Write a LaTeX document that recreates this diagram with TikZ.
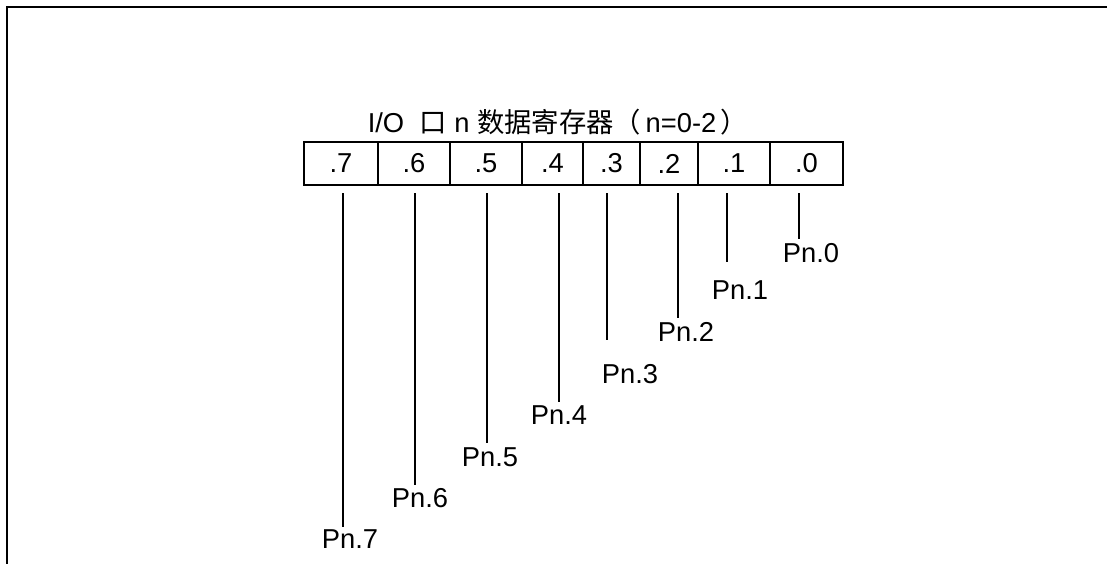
\documentclass[tikz,border=0pt]{standalone}
\usepackage{fontspec}
\setmainfont{Liberation Sans}
\newfontfamily\cjk{Noto Sans CJK SC}
\begin{document}
\begin{tikzpicture}[x=0.75pt,y=-0.75pt,
  txt/.style={inner sep=0pt,font=\fontsize{20.5}{23}\selectfont},
  cell/.style={txt,draw,line width=1.3pt,minimum height=32.25pt},
  wire/.style={line width=1.3pt},
  frame/.style={line width=1.6pt}]
\useasboundingbox (0,0) rectangle (1107,564);
\draw[frame] (7,564) -- (7,7) -- (1107,7);
% title
\node[txt] (title) at (558,122) {I/O\ \ {\cjk 口} n {\cjk 数据寄存器（}\,n=0-2\,{\cjk ）}};
% register cells
\node[cell,minimum width=55.5pt]  (c7) at (341,163.5)   {.7};
\node[cell,minimum width=54pt]    (c6) at (414,163.5)   {.6};
\node[cell,minimum width=54pt]    (c5) at (486,163.5)   {.5};
\node[cell,minimum width=45.75pt] (c4) at (552.5,163.5) {.4};
\node[cell,minimum width=42.75pt] (c3) at (611.5,163.5) {.3};
\node[cell,minimum width=43.5pt]  (c2) at (669,163.5)   {.2};
\node[cell,minimum width=54pt]    (c1) at (734,163.5)   {.1};
\node[cell,minimum width=54.75pt] (c0) at (806.5,163.5) {.0};
% pin labels
\node[txt] (p0) at (811,253) {Pn.0};
\node[txt] (p1) at (740,290) {Pn.1};
\node[txt] (p2) at (686,332) {Pn.2};
\node[txt] (p3) at (630,374) {Pn.3};
\node[txt] (p4) at (559,415) {Pn.4};
\node[txt] (p5) at (490,457) {Pn.5};
\node[txt] (p6) at (420,498) {Pn.6};
\node[txt] (p7) at (350,539) {Pn.7};
% wire ends
\coordinate (t0) at (799,193); \coordinate (b0) at (799,239);
\coordinate (t1) at (727,193); \coordinate (b1) at (727,262);
\coordinate (t2) at (678,193); \coordinate (b2) at (678,318);
\coordinate (t3) at (607,193); \coordinate (b3) at (607,340);
\coordinate (t4) at (559,193); \coordinate (b4) at (559,402);
\coordinate (t5) at (487,193); \coordinate (b5) at (487,443);
\coordinate (t6) at (415,193); \coordinate (b6) at (415,485);
\coordinate (t7) at (343,193); \coordinate (b7) at (343,527);
\foreach \i in {0,...,7} {\draw[wire] (t\i) -- (b\i);}
\end{tikzpicture}
\end{document}
